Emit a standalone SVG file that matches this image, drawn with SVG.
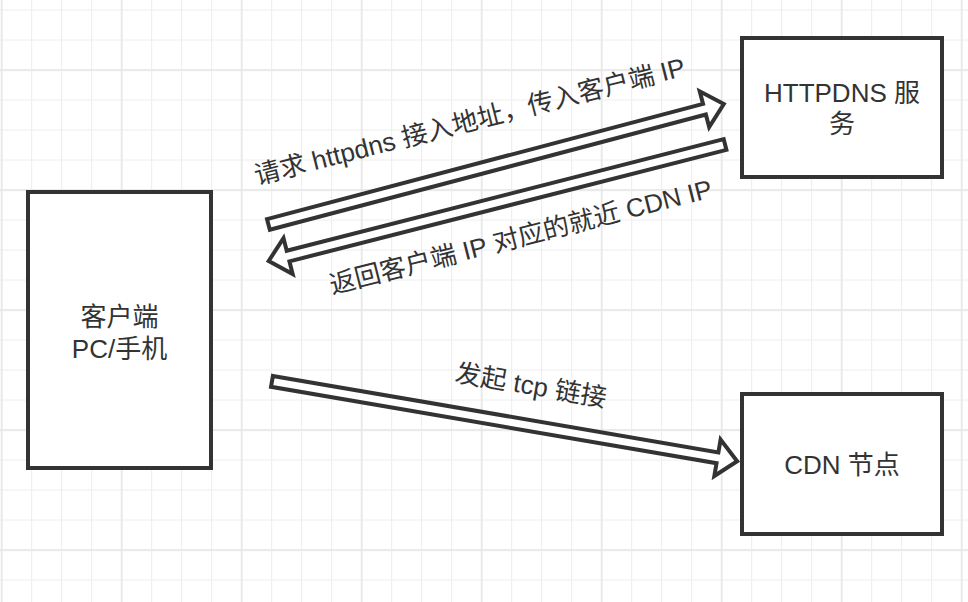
<svg xmlns="http://www.w3.org/2000/svg" width="968" height="602" viewBox="0 0 968 602">
  <defs>
    <pattern id="minor" width="30" height="30" patternUnits="userSpaceOnUse" x="1" y="9.5">
      <rect x="0" y="0" width="1.2" height="30" fill="#efefef"/>
      <rect x="0" y="0" width="30" height="1.2" fill="#efefef"/>
    </pattern>
    <pattern id="major" width="120" height="120" patternUnits="userSpaceOnUse" x="0.8" y="69.2">
      <rect x="0" y="0" width="1.6" height="120" fill="#e6e6e6"/>
      <rect x="0" y="0" width="120" height="1.6" fill="#e6e6e6"/>
    </pattern>
    <style>
      .box { fill: #ffffff; stroke: #333333; stroke-width: 4; }
      .arrow { fill: #ffffff; stroke: #333333; stroke-width: 4; stroke-linejoin: miter; }
      .lbl { font-family: "Liberation Sans", "Noto Sans CJK SC", sans-serif; font-size: 26px; fill: #333333; text-anchor: middle; }
    </style>
  </defs>

  <rect x="0" y="0" width="968" height="602" fill="#ffffff"/>
  <rect x="0" y="0" width="968" height="602" fill="url(#minor)"/>
  <rect x="0" y="0" width="968" height="602" fill="url(#major)"/>

  <g id="connectors">
    <g id="arrow-request" transform="translate(266.5,225) rotate(-14.81)">
      <path class="arrow" d="M2,-5.5 H453 V-18.5 L473,0 L453,18.5 V5.5 H2 Z"/>
    </g>
    <g id="arrow-return" transform="translate(727,144) rotate(165.68)">
      <path class="arrow" d="M2,-5.5 H453 V-18.5 L473,0 L453,18.5 V5.5 H2 Z"/>
    </g>
    <g id="arrow-tcp" transform="translate(270,381) rotate(9.74)">
      <path class="arrow" d="M2,-5.5 H454 V-18.5 L474,0 L454,18.5 V5.5 H2 Z"/>
    </g>
    <text class="lbl" transform="translate(472,130) rotate(-14.3)" x="0" y="0">请求 httpdns 接入地址，传入客户端 IP</text>
    <text class="lbl" transform="translate(523,245.5) rotate(-14.3)" x="0" y="0">返回客户端 IP 对应的就近 CDN IP</text>
    <text class="lbl" transform="translate(529.4,394.2) rotate(9.8)" x="0" y="0">发起 tcp 链接</text>
  </g>

  <g id="client">
    <rect class="box" x="28" y="192" width="183" height="276"/>
    <text class="lbl" x="119.5" y="325.5">客户端</text>
    <text class="lbl" x="119.5" y="357.5">PC/手机</text>
  </g>

  <g id="httpdns">
    <rect class="box" x="742" y="38" width="200" height="139"/>
    <text class="lbl" x="842" y="101.5">HTTPDNS 服</text>
    <text class="lbl" x="842" y="132.5">务</text>
  </g>

  <g id="cdn">
    <rect class="box" x="742" y="394" width="200" height="140"/>
    <text class="lbl" x="842" y="474">CDN 节点</text>
  </g>
</svg>
